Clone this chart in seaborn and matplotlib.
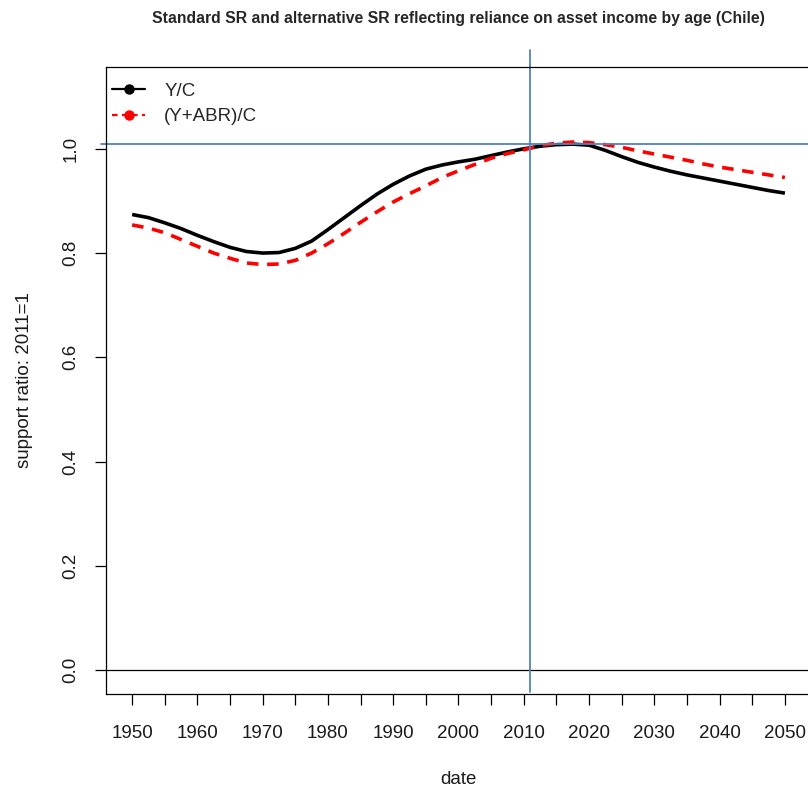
import matplotlib
matplotlib.use("Agg")
import matplotlib.pyplot as plt
from matplotlib.lines import Line2D
import seaborn as sns
import pandas as pd

# Support ratio series, indexed to 2011 = 1, every 2.5 years
years = [1950 + 2.5 * i for i in range(41)]
sr_standard = [0.874, 0.868, 0.858, 0.847, 0.834, 0.822, 0.811, 0.803, 0.800, 0.801,
               0.809, 0.823, 0.845, 0.868, 0.891, 0.913, 0.932, 0.948, 0.961, 0.969,
               0.975, 0.980, 0.987, 0.994, 1.000, 1.005, 1.008, 1.009, 1.007, 0.997,
               0.985, 0.974, 0.965, 0.957, 0.950, 0.944, 0.938, 0.932, 0.926, 0.920,
               0.915]
sr_asset = [0.854, 0.848, 0.839, 0.826, 0.813, 0.800, 0.790, 0.781, 0.778, 0.779,
            0.786, 0.800, 0.818, 0.838, 0.859, 0.879, 0.898, 0.914, 0.929, 0.945,
            0.958, 0.970, 0.982, 0.991, 0.998, 1.006, 1.011, 1.013, 1.012, 1.008,
            1.003, 0.996, 0.990, 0.984, 0.978, 0.971, 0.965, 0.960, 0.955, 0.950,
            0.945]
series_names = ["Y/C", "(Y+ABR)/C"]
ref_year = 2011
ref_level = 1.01
x_ticks = list(range(1950, 2051, 5))
x_labels = [str(y) if y % 10 == 0 else "" for y in x_ticks]
y_ticks = [0.0, 0.2, 0.4, 0.6, 0.8, 1.0]

df = pd.DataFrame({"date": years, series_names[0]: sr_standard, series_names[1]: sr_asset})

sns.set_style("ticks")
plt.rcParams["font.family"] = ["Liberation Sans", "DejaVu Sans"]

fig = plt.figure(figsize=(8.08, 7.90), dpi=100)
ax = fig.add_axes([106 / 808, 96 / 790, 705 / 808, 627 / 790])

blue = "#4F81BD"
text_col = "#1a1a1a"
fs = 13.5

sns.lineplot(data=df, x="date", y=series_names[0], ax=ax, color="black", lw=2.6,
             solid_capstyle="butt")
sns.lineplot(data=df, x="date", y=series_names[1], ax=ax, color="#FF0000", lw=2.6,
             linestyle=(0, (3.2, 2.4)), dash_capstyle="butt")

ax.axhline(0, color="black", lw=0.9)
ax.axvline(ref_year, ymin=0.003, ymax=1.027, color=blue, lw=1.3, clip_on=False)
ax.axhline(ref_level, xmin=-0.007, xmax=1.0, color=blue, lw=1.3, clip_on=False)

ax.set_xlim(1946, 2054)
ax.set_ylim(-0.046, 1.157)
ax.set_xticks(x_ticks)
ax.set_xticklabels(x_labels)
ax.set_yticks(y_ticks)
ax.set_yticklabels([f"{v:.1f}" for v in y_ticks], rotation=90, va="center")
ax.tick_params(axis="both", direction="out", length=8, width=0.9, color="black",
               labelsize=fs, labelcolor=text_col)
ax.tick_params(axis="x", pad=14)
ax.tick_params(axis="y", pad=11)

for sp in ax.spines.values():
    sp.set_visible(True)
    sp.set_color("black")
    sp.set_linewidth(0.9)

ax.set_xlabel("date", fontsize=fs, labelpad=21, color=text_col)
ax.set_ylabel("support ratio: 2011=1", fontsize=fs, labelpad=21, color=text_col)
ax.set_title("Standard SR and alternative SR reflecting reliance on asset income by age (Chile)",
             fontsize=11.3, fontweight="bold", pad=32)

handles = [
    Line2D([], [], color="black", lw=1.6, marker="o", markersize=6.5),
    Line2D([], [], color="#FF0000", lw=1.6, linestyle=(0, (2.5, 2)), marker="o", markersize=6.5),
]
ax.legend(handles, series_names, loc="upper left", bbox_to_anchor=(0.0, 0.984), frameon=False,
          fontsize=fs, handlelength=1.8, handletextpad=1.0, borderaxespad=0.0,
          borderpad=0.3, labelspacing=0.45)

fig.savefig("out.png", dpi=100)
